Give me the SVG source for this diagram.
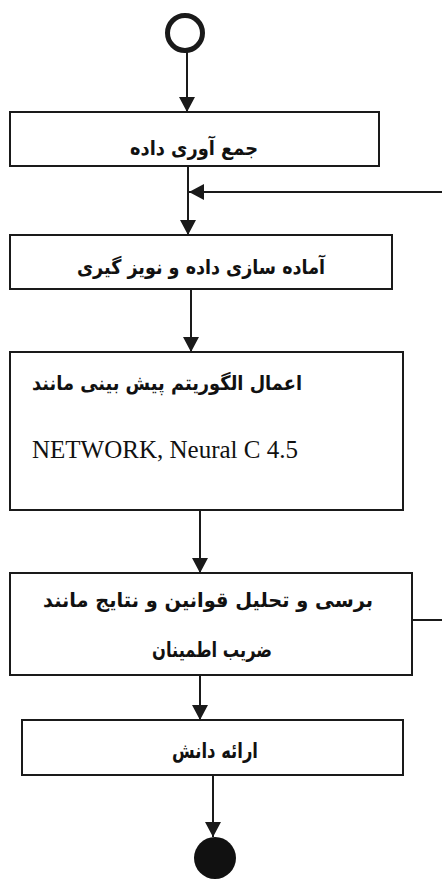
<svg xmlns="http://www.w3.org/2000/svg" width="442" height="882" viewBox="0 0 442 882">
<style>
.box{fill:#fff;stroke:#1a1a1a;stroke-width:2}
.fa{font-family:"DejaVu Sans",sans-serif;font-weight:bold;font-size:20px;fill:#111;direction:rtl}
.en{font-family:"Liberation Serif",serif;font-size:25px;fill:#111}
.c{fill:none;stroke:#1a1a1a;stroke-width:2}
</style>
<defs>
<marker id="ah" markerWidth="16" markerHeight="16" refX="15" refY="8" orient="auto" markerUnits="userSpaceOnUse">
<path d="M0,0 L15,8 L0,16 Z" fill="#1a1a1a"/>
</marker>
</defs>
<rect width="442" height="882" fill="#fff"/>
<g id="start"><circle cx="185" cy="33" r="17.5" fill="none" stroke="#1a1a1a" stroke-width="5"/></g>
<g id="n1"><rect class="box" x="10" y="112" width="369" height="54"/><text class="fa" x="194" y="155" text-anchor="middle" textLength="128" lengthAdjust="spacingAndGlyphs">جمع آوری داده</text></g>
<g id="n2"><rect class="box" x="10" y="235" width="382" height="54"/><text class="fa" x="201" y="274" text-anchor="middle" textLength="248" lengthAdjust="spacingAndGlyphs">آماده سازی داده و نویز گیری</text></g>
<g id="n3"><rect class="box" x="10" y="352" width="393" height="158"/><text class="fa" x="167" y="390" text-anchor="middle" textLength="270" lengthAdjust="spacingAndGlyphs">اعمال الگوریتم پیش بینی مانند</text><text class="en" x="32" y="458">NETWORK, Neural C 4.5</text></g>
<g id="n4"><rect class="box" x="10" y="573" width="402" height="102"/><text class="fa" x="208" y="607" text-anchor="middle" textLength="330" lengthAdjust="spacingAndGlyphs">برسی و تحلیل قوانین و نتایج مانند</text><text class="fa" x="212" y="657" text-anchor="middle" textLength="120" lengthAdjust="spacingAndGlyphs" style="font-size:21px">ضریب اطمینان</text></g>
<g id="n5"><rect class="box" x="22" y="720" width="381" height="55"/><text class="fa" x="215" y="758" text-anchor="middle" textLength="86" lengthAdjust="spacingAndGlyphs" style="font-size:21px">ارائه دانش</text></g>
<g id="end"><circle cx="215" cy="858" r="21" fill="#111"/></g>
<g id="connectors">
<line class="c" x1="187" y1="52" x2="187" y2="112" marker-end="url(#ah)"/>
<line class="c" x1="188" y1="166" x2="188" y2="235" marker-end="url(#ah)"/>
<polyline class="c" points="412,620 450,620 450,192 189,192" marker-end="url(#ah)"/>
<line class="c" x1="191" y1="289" x2="191" y2="352" marker-end="url(#ah)"/>
<line class="c" x1="200" y1="510" x2="200" y2="573" marker-end="url(#ah)"/>
<line class="c" x1="200" y1="675" x2="200" y2="720" marker-end="url(#ah)"/>
<line class="c" x1="213" y1="775" x2="213" y2="837" marker-end="url(#ah)"/>
</g>
</svg>
